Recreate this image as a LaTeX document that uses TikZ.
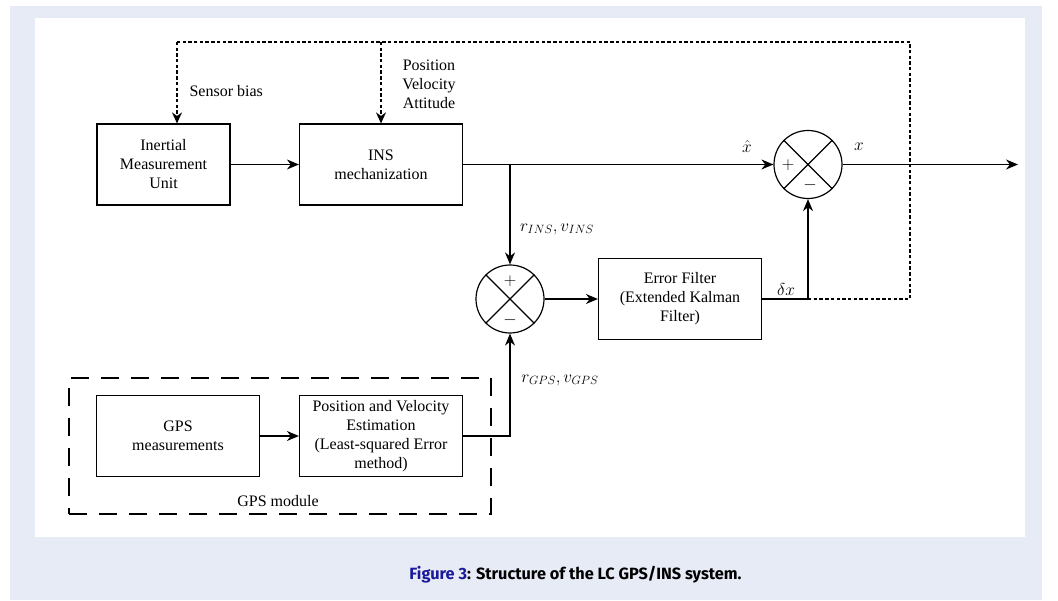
\documentclass[tikz,border=0pt]{standalone}
\usepackage{fontspec}
\setmainfont{Liberation Serif}
\newfontfamily\capfont{Fira Sans}
\usepackage{tikz}
\usetikzlibrary{arrows.meta}
\usetikzlibrary{positioning,calc}
\definecolor{pagebg}{RGB}{231,235,246}
\definecolor{figblue}{RGB}{26,26,153}
\tikzstyle{block} = [draw, rectangle, line width=1.2pt, minimum width=163pt,
minimum height=81pt, align=center, inner sep=2pt]
\tikzstyle{line} = [draw, line width=1.2pt, -{Stealth[length=12pt,width=10pt]}]
\tikzstyle{fback} = [draw, line width=1.2pt, dash pattern=on 3.4pt off 2.3pt]

\begin{document}
\begin{tikzpicture}[x=1pt, y=-1pt,
		font=\fontsize{16}{19}\selectfont,
		sum/.style={draw, circle, line width=1.2pt, minimum size=68pt, inner sep=0pt},
		modbox/.style={draw, line width=1.2pt, dash pattern=on 18pt off 12pt,
		minimum width=422pt, minimum height=136pt},
		mlabel/.style={font=\fontsize{18}{20}\selectfont}]
		\useasboundingbox (0,0) rectangle (1058,601);
		\fill [pagebg] (10,6) rectangle (1042,600);
		\fill [white] (35,18) rectangle (1025,537);
		%% Blocks
		\node [block, minimum width=133pt] (imu) at (163.5,164.5) {Inertial\\Measurement\\Unit};
		\node [block] (ins) at (381,164.5) {INS\\mechanization};
		\node [block] (ekf) at (680,299) {Error Filter\\(Extended Kalman\\Filter)};
		\node [block] (gpsm) at (178,436) {GPS\\measurements};
		\node [block] (lse) at (381,436) {Position and Velocity\\Estimation\\(Least-squared Error\\method)};
		\node [modbox] (gpsmod) at (280,446) {};
		\node (gpsmodl) at (278,501) {GPS module};
		%% Summing junctions
		\node [sum] (sumout) at (808,164.5) {};
		\node [sum] (suminn) at (510,299) {};
		\foreach \s in {sumout,suminn}
		\draw [line width=1.2pt] (\s.north west) -- (\s.south east)
		(\s.north east) -- (\s.south west);
		\node [mlabel] (sumoutp) at (788,165) {$+$};
		\node [mlabel] (sumoutm) at (810,185) {$-$};
		\node [mlabel] (suminnp) at (510,281) {$+$};
		\node [mlabel] (suminnm) at (510,320) {$-$};
		%% Signals
		\coordinate (br) at (suminn |- ins.east);
		\coordinate (xout) at (1018,164.5);
		\path [line] (imu) -- (ins);
		\path [line] (ins.east) -- (sumout.west);
		\path [line] (br) -- (suminn.north);
		\path [line] (suminn.east) -- (ekf.west);
		\path [line] (ekf.east) -| (sumout.south);
		\path [line] (gpsm) -- (lse);
		\path [line] (lse.east) -| (suminn.south);
		\path [line] (sumout.east) -- (xout);
		%% Feedback
		\coordinate (fbl) at (177,42);
		\coordinate (fbm) at (381,42);
		\coordinate (fbr) at (910,42);
		\coordinate (dxj) at (sumout |- ekf.east);
		\path [fback] (dxj) -- (fbr |- dxj) -- (fbr) -- (fbl);
		\path [fback, -{Stealth[length=11pt,width=10pt]}] (fbl) -- (fbl |- imu.north);
		\path [fback, -{Stealth[length=11pt,width=10pt]}] (fbm) -- (ins.north);
		%% Labels
		\node [anchor=west] (biasl) at (186,91) {Sensor bias};
		\node [align=center] (pval) at (429,84) {Position\\Velocity\\Attitude};
		\node [mlabel] (xhatl) at (747,147) {$\hat{x}$};
		\node [mlabel] (xl) at (859,147) {$x$};
		\node [mlabel] (insl) at (557,229) {$r_{INS}, v_{INS}$};
		\node [mlabel] (dxl) at (786,290) {$\delta x$};
		\node [mlabel] (gpsl) at (560,380) {$r_{GPS}, v_{GPS}$};
		%% Caption
		\node [font=\capfont\bfseries\fontsize{16.3}{19}\selectfont] (cap) at (575.5,575)
		{{\color{figblue}Figure 3}: Structure of the LC GPS/INS system.};
	\end{tikzpicture}
\end{document}
